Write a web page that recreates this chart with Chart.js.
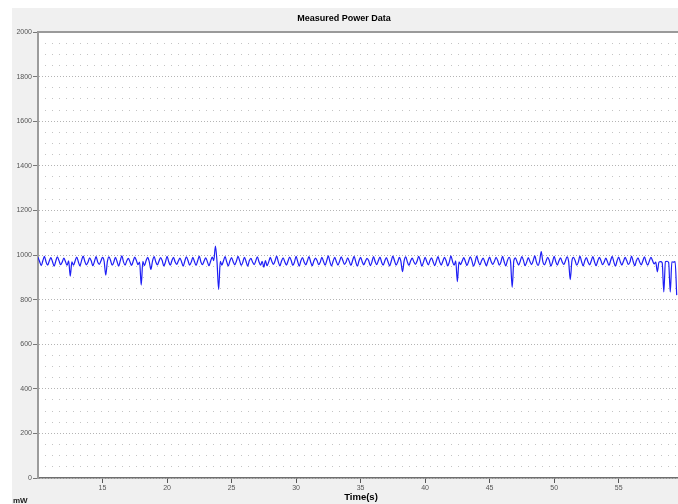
<!DOCTYPE html>
<html>
<head>
<meta charset="utf-8">
<script src="https://cdn.jsdelivr.net/npm/chart.js@4.4.1/dist/chart.umd.min.js"></script>
<style>
  html, body { margin: 0; padding: 0; background: #ffffff; overflow: hidden; width: 678px; height: 504px; }
  #c { position: absolute; left: 12px; top: 8px; }
</style>
</head>
<body>
<canvas id="c" width="666" height="496"></canvas>
<script>
// ---- Data ----
const chartTitle = "Measured Power Data";
const xAxisTitle = "Time(s)";
const yAxisTitle = "mW";
const startTime = 10.0;      // s, first sample
const sampleStep = 0.125;    // s between samples
// Measured power (mW), eight samples per second
const powerValues = [
  990, 971, 952, 974, 994, 969, 955, 973,   // 10
  988, 970, 950, 972, 992, 975, 957, 968,   // 11
  986, 971, 953, 974, 905, 969, 954, 973,   // 12
  991, 970, 951, 975, 995, 972, 956, 968,   // 13
  987, 974, 952, 971, 993, 969, 958, 973,   // 14
  989, 972, 910, 970, 992, 975, 954, 968,   // 15
  990, 971, 950, 974, 996, 969, 955, 973,   // 16
  985, 970, 953, 972, 991, 975, 957, 968,   // 17
  865, 971, 952, 974, 989, 969, 935, 973,   // 18
  993, 970, 956, 972, 988, 975, 951, 968,   // 19
  994, 971, 954, 974, 990, 969, 958, 973,   // 20
  986, 970, 950, 972, 992, 975, 955, 968,   // 21
  989, 971, 953, 974, 995, 969, 957, 973,   // 22
  987, 970, 952, 972, 991, 975, 1040, 968,  // 23
  845, 971, 955, 974, 993, 969, 951, 973,   // 24
  988, 970, 956, 972, 994, 975, 953, 968,   // 25
  990, 971, 950, 974, 985, 969, 957, 973,   // 26
  992, 970, 954, 972, 945, 975, 952, 968,   // 27
  989, 971, 958, 974, 995, 969, 951, 973,   // 28
  987, 970, 955, 972, 991, 975, 953, 968,   // 29
  994, 971, 950, 974, 988, 969, 956, 973,   // 30
  993, 970, 952, 972, 986, 975, 957, 968,   // 31
  990, 971, 954, 974, 996, 969, 951, 973,   // 32
  989, 970, 955, 972, 992, 975, 958, 968,   // 33
  987, 971, 953, 974, 994, 969, 950, 973,   // 34
  990, 970, 956, 972, 985, 975, 952, 968,   // 35
  993, 971, 957, 974, 991, 969, 954, 973,   // 36
  988, 970, 951, 972, 995, 975, 955, 968,   // 37
  989, 971, 925, 974, 992, 969, 953, 973,   // 38
  986, 970, 958, 972, 994, 975, 950, 968,   // 39
  990, 971, 956, 974, 987, 969, 952, 973,   // 40
  993, 970, 955, 972, 989, 975, 951, 968,   // 41
  996, 971, 954, 974, 880, 969, 957, 973,   // 42
  988, 970, 953, 972, 992, 975, 950, 968,   // 43
  995, 971, 956, 974, 986, 969, 952, 973,   // 44
  991, 970, 958, 972, 989, 975, 954, 968,   // 45
  994, 971, 951, 974, 990, 969, 855, 973,   // 46
  987, 970, 955, 972, 993, 975, 952, 968,   // 47
  988, 971, 957, 974, 996, 969, 953, 973,   // 48
  1015, 970, 956, 972, 990, 975, 950, 968,  // 49
  994, 971, 955, 974, 987, 969, 958, 973,   // 50
  992, 970, 890, 972, 989, 975, 954, 968,   // 51
  995, 971, 951, 974, 988, 969, 956, 973,   // 52
  993, 970, 952, 972, 990, 975, 957, 968,   // 53
  986, 971, 953, 974, 994, 969, 950, 973,   // 54
  991, 970, 955, 972, 989, 975, 958, 968,   // 55
  995, 971, 952, 974, 987, 969, 956, 973,   // 56
  992, 970, 954, 972, 990, 975, 960, 968,   // 57
  924, 968, 970, 965, 834, 970, 972, 966,   // 58
  834, 969, 968, 970, 820                   // 59
];
const xTickLabels = [15, 20, 25, 30, 35, 40, 45, 50, 55];
const yMin = 0, yMax = 2000, yMajorStep = 200, yMinorStep = 50;
const xMin = 10, xMax = 59.6;

const points = powerValues.map((v, i) => ({ x: startTime + i * sampleStep, y: v }));

const FONT = "'Liberation Sans', Arial, sans-serif";

const framePlugin = {
  id: 'frame',
  beforeDraw(chart) {
    const { ctx, chartArea: a, width, height } = chart;
    ctx.save();
    ctx.fillStyle = '#f0f0f0';
    ctx.fillRect(0, 0, width, height);
    ctx.fillStyle = '#ffffff';
    ctx.fillRect(a.left, a.top, a.right - a.left, a.bottom - a.top);
    ctx.restore();
  },
  afterDraw(chart) {
    const { ctx, chartArea: a } = chart;
    ctx.save();
    ctx.strokeStyle = '#9a9a9a';
    ctx.lineWidth = 2;
    ctx.beginPath();
    ctx.moveTo(a.left - 1, a.top);
    ctx.lineTo(a.right, a.top);
    ctx.stroke();
    ctx.fillStyle = '#000';
    ctx.textBaseline = 'middle';
    ctx.textAlign = 'center';
    ctx.font = 'bold 9px ' + FONT;
    ctx.fillText(chartTitle, 332, 11);
    ctx.font = 'bold 9.5px ' + FONT;
    ctx.fillText(xAxisTitle, 349, 489);
    ctx.textAlign = 'left';
    ctx.font = 'bold 8px ' + FONT;
    ctx.fillStyle = '#222';
    ctx.fillText(yAxisTitle, 1, 493);
    ctx.restore();
  }
};

new Chart(document.getElementById('c'), {
  type: 'line',
  data: {
    datasets: [{
      data: points,
      borderColor: 'rgb(30,30,245)',
      borderWidth: 1.2,
      pointRadius: 0,
      fill: false,
      cubicInterpolationMode: 'monotone'
    }]
  },
  options: {
    responsive: false,
    animation: false,
    devicePixelRatio: 1,
    layout: { padding: { top: 24, left: 0, right: 0, bottom: 0 } },
    plugins: { legend: { display: false }, title: { display: false }, tooltip: { enabled: false } },
    scales: {
      x: {
        type: 'linear',
        min: xMin, max: xMax,
        afterBuildTicks(scale) { scale.ticks = xTickLabels.map(v => ({ value: v })); },
        afterFit(scale) { scale.height = 26; },
        ticks: { color: '#555', font: { size: 7, family: FONT }, padding: 1, maxRotation: 0,
                 callback: v => String(v) },
        grid: { drawOnChartArea: false, tickLength: 5, tickColor: '#555', tickWidth: 1 },
        border: { color: '#6e6e6e', width: 1.5 }
      },
      y: {
        min: yMin, max: yMax,
        weight: 1,
        afterFit(scale) { scale.width = 26; },
        ticks: { stepSize: yMajorStep, color: '#555', font: { size: 7, family: FONT }, padding: 1,
                 callback: v => String(v) },
        grid: { color: '#b4b4b4', lineWidth: 1, tickLength: 5, tickColor: '#777' },
        border: { color: '#9c9c9c', width: 2, dash: [1, 2] }
      },
      yMinor: {
        position: 'left',
        min: yMin, max: yMax,
        weight: 0,
        afterFit(scale) { scale.width = 0; },
        ticks: { display: false, stepSize: yMinorStep },
        grid: {
          drawTicks: false,
          lineWidth: 1,
          color: ctx => (ctx.tick && ctx.tick.value % yMajorStep === 0) ? 'rgba(0,0,0,0)' : '#c4c4c4'
        },
        border: { display: false, dash: [1, 6] }
      }
    }
  },
  plugins: [framePlugin]
});
</script>
</body>
</html>
